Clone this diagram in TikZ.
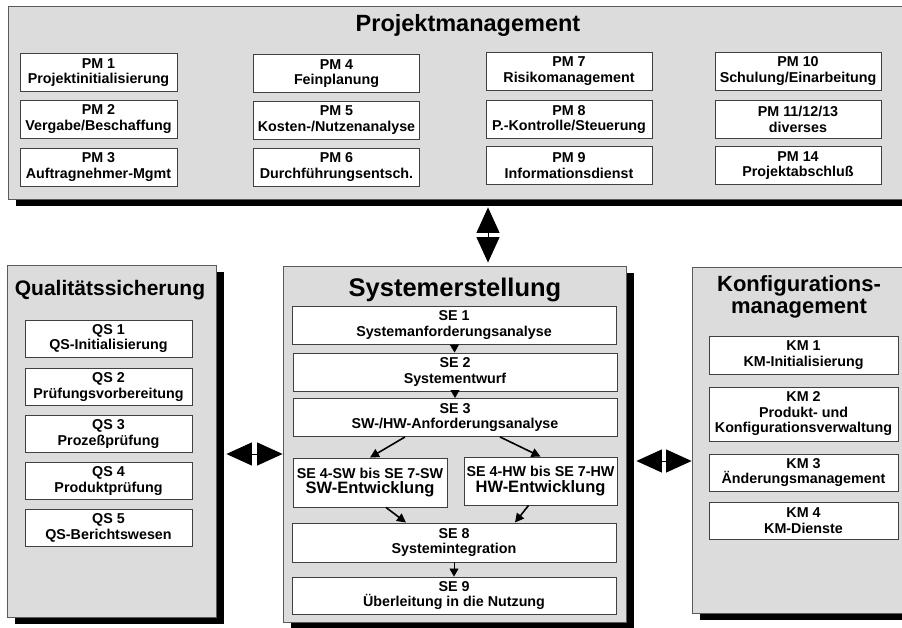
\documentclass[tikz,border=0pt]{standalone}
\usepackage{fontspec}
\setmainfont{Liberation Sans}
\usetikzlibrary{arrows.meta,shadows}

\definecolor{panelgray}{HTML}{DCDCDC}
\definecolor{framegray}{HTML}{5A5A5A}
\definecolor{boxline}{HTML}{404040}
\newcommand\taskfont{\bfseries\fontsize{14.3}{15.5}\selectfont}

\begin{document}
\begin{tikzpicture}[x=1pt,y=-1pt,
  panel/.style={draw=framegray,line width=0.8pt,fill=panelgray,inner sep=0pt,
    general shadow={fill=black,shadow xshift=8pt,shadow yshift=-7pt}},
  task/.style={draw=boxline,line width=0.9pt,fill=white,inner sep=0pt,align=center,
    minimum width=166,minimum height=38,font=\taskfont},
  headline/.style={anchor=base,inner sep=0pt,align=center},
  dbl/.style={line width=1pt,>={Triangle[length=25.5pt,width=23pt]},<->},
  next/.style={line width=0.8pt,-{Triangle[length=8pt,width=9pt]}},
  branch/.style={line width=1.6pt,-{Triangle[length=9pt,width=9pt]}}]
\useasboundingbox (0,0) rectangle (902,628);

% the four areas
\node[panel,minimum width=898,minimum height=193] (pm) at (457,102.5) {};
\node[panel,minimum width=209,minimum height=352] (qs) at (111.5,441) {};
\node[panel,minimum width=343,minimum height=356] (se) at (454.5,444) {};
\node[panel,minimum width=214,minimum height=346] (km) at (799,440) {};

\node[headline,font=\bfseries\fontsize{23.5}{24}\selectfont] (pmtitle) at (468,32) {Projektmanagement};
\node[headline,font=\bfseries\fontsize{21}{22}\selectfont] (qstitle) at (110,296) {Qualitätssicherung};
\node[headline,font=\bfseries\fontsize{25.5}{26}\selectfont] (setitle) at (455,297) {Systemerstellung};
\node[headline,anchor=north,font=\bfseries\fontsize{22}{22}\selectfont] (kmtitle) at (799,275) {Konfigurations-\\management};

% Projektmanagement
\node[task,minimum width=157] (pm1) at (98.5,72.5) {PM 1\\Projektinitialisierung};
\node[task,minimum width=157] (pm2) at (98.5,119) {PM 2\\Vergabe/Beschaffung};
\node[task,minimum width=157] (pm3) at (98.5,167) {PM 3\\Auftragnehmer-Mgmt};
\node[task] (pm4) at (336.5,73.5) {PM 4\\Feinplanung};
\node[task] (pm5) at (336.5,120) {PM 5\\Kosten-/Nutzenanalyse};
\node[task] (pm6) at (336.5,167) {PM 6\\Durchführungsentsch.};
\node[task] (pm7) at (569,71) {PM 7\\Risikomanagement};
\node[task] (pm8) at (569,119.5) {PM 8\\P.-Kontrolle/Steuerung};
\node[task] (pm9) at (569,165.5) {PM 9\\Informationsdienst};
\node[task] (pm10) at (798,71) {PM 10\\Schulung/Einarbeitung};
\node[task] (pm11) at (798,119.5) {PM 11/12/13\\diverses};
\node[task] (pm14) at (798,165.5) {PM 14\\Projektabschluß};

% Qualitaetssicherung
\node[task,minimum width=167,minimum height=37] (qs1) at (108.5,338.5) {QS 1\\QS-Initialisierung};
\node[task,minimum width=167,minimum height=37] (qs2) at (108.5,387) {QS 2\\Prüfungsvorbereitung};
\node[task,minimum width=167,minimum height=37] (qs3) at (108.5,434) {QS 3\\Prozeßprüfung};
\node[task,minimum width=167,minimum height=37] (qs4) at (108.5,481) {QS 4\\Produktprüfung};
\node[task,minimum width=167,minimum height=37] (qs5) at (108.5,528) {QS 5\\QS-Berichtswesen};

% Systemerstellung
\node[task,minimum width=324] (se1) at (454,325) {SE 1\\Systemanforderungsanalyse};
\node[task,minimum width=324] (se2) at (455,372) {SE 2\\Systementwurf};
\node[task,minimum width=324] (se3) at (455,417.5) {SE 3\\SW-/HW-Anforderungsanalyse};
\node[task,minimum width=154,minimum height=49] (sw) at (370,482.5)
  {SE 4-SW bis SE 7-SW\\{\fontsize{16.5}{16.5}\selectfont SW-Entwicklung}};
\node[task,minimum width=153,minimum height=48] (hw) at (540.5,481)
  {SE 4-HW bis SE 7-HW\\{\fontsize{16.5}{16.5}\selectfont HW-Entwicklung}};
\node[task,minimum width=324,minimum height=39] (se8) at (454,542.5) {SE 8\\Systemintegration};
\node[task,minimum width=324,minimum height=37] (se9) at (454,595.5) {SE 9\\Überleitung in die Nutzung};

\draw[next] (se1) -- (se2);
\draw[next] (se2) -- (se3);
\draw[branch] ([xshift=-50pt]se3.south) -- (sw.north);
\draw[branch] ([xshift=45pt]se3.south) -- (hw.north);
\draw[branch] ([xshift=16pt]sw.south) -- ([xshift=-48pt]se8.north);
\draw[branch] ([xshift=-12pt]hw.south) -- ([xshift=61pt]se8.north);
\draw[next] (se8) -- (se9);

% Konfigurationsmanagement
\node[task,minimum width=189] (km1) at (803.5,355) {KM 1\\KM-Initialisierung};
\node[task,minimum width=189,minimum height=54] (km2) at (803.5,414) {KM 2\\Produkt- und\\Konfigurationsverwaltung};
\node[task,minimum width=189,minimum height=37] (km3) at (803.5,472.5) {KM 3\\Änderungsmanagement};
\node[task,minimum width=189,minimum height=37] (km4) at (803.5,520.5) {KM 4\\KM-Dienste};

% links between the areas
\coordinate (vx) at (488,0);
\coordinate (hl) at (0,454);
\coordinate (hr) at (0,461);
\draw[dbl] ([yshift=-8pt]pm.south -| vx) -- ([yshift=3pt]se.north -| vx);
\draw[dbl] ([xshift=10pt]qs.east |- hl) -- (se.west |- hl);
\draw[dbl] ([xshift=10pt]se.east |- hr) -- (km.west |- hr);
\end{tikzpicture}
\end{document}
